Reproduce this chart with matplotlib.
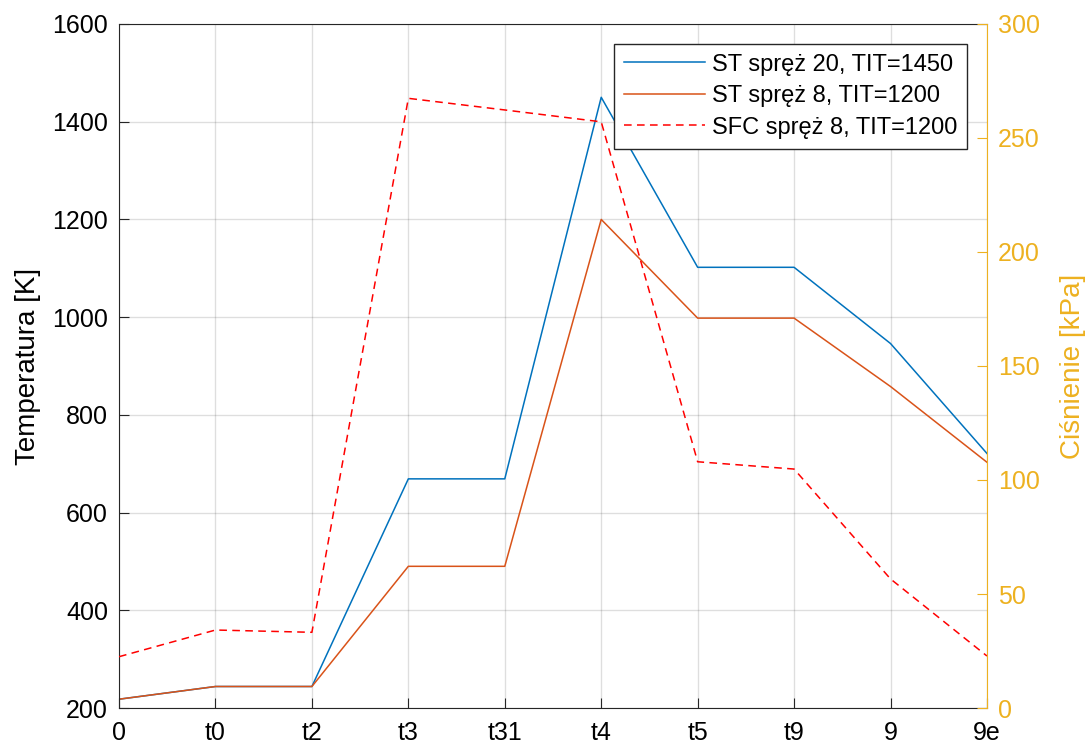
import numpy as np
import matplotlib.pyplot as plt

plt.rcParams['font.family'] = ['Liberation Sans', 'DejaVu Sans']

# data
stations = ['0', 't0', 't2', 't3', 't31', 't4', 't5', 't9', '9', '9e']
temp_st20 = [218, 244, 244, 669, 669, 1450, 1102, 1102, 946, 721]
temp_st8 = [218, 244, 244, 490, 490, 1200, 998, 998, 858, 703]
press_sfc8 = [22.5, 34.2, 33.2, 267.4, 262.3, 257.1, 108.0, 104.8, 56.6, 22.8]

labels = ['ST spręż 20, TIT=1450', 'ST spręż 8, TIT=1200', 'SFC spręż 8, TIT=1200']

blue = '#0072BD'
orange = '#D95319'
yellow = '#EDB120'
dark = '#262626'

x = np.arange(len(stations))

fig = plt.figure(figsize=(10.89, 7.5), dpi=100)
ax = fig.add_axes([0.1093, 0.056, 0.7970, 0.912])
ax2 = ax.twinx()

l1, = ax.plot(x, temp_st20, color=blue, lw=1.1)
l2, = ax.plot(x, temp_st8, color=orange, lw=1.1)
l3, = ax2.plot(x, press_sfc8, color='red', lw=1.1, ls=(0, (5, 3.5)))

ax.set_xlim(0, len(stations) - 1)
ax.set_ylim(200, 1600)
ax2.set_ylim(0, 300)
ax.set_xticks(x)
ax.set_xticklabels(stations)
ax.set_yticks(np.arange(200, 1601, 200))
ax2.set_yticks(np.arange(0, 301, 50))

ax.grid(True, color=dark, alpha=0.15, lw=1.0)
ax.tick_params(direction='in', length=7, labelsize=18, colors=dark, pad=8)
ax.tick_params(axis='x', pad=9)
ax.tick_params(axis='y', labelcolor='black')
ax.tick_params(axis='x', labelcolor='black')
ax2.tick_params(direction='in', length=7, labelsize=18, colors=yellow, pad=8)

for s in ['left', 'bottom', 'top']:
    ax.spines[s].set_color(dark)
ax.spines['right'].set_visible(False)
for s in ['left', 'bottom', 'top']:
    ax2.spines[s].set_visible(False)
ax2.spines['right'].set_color(yellow)

ax.set_ylabel('Temperatura [K]', fontsize=20, color='black', labelpad=8)
ax2.set_ylabel('Ciśnienie [kPa]', fontsize=20, color=yellow, labelpad=14)

leg = ax2.legend([l1, l2, l3], labels, loc='upper right',
                 bbox_to_anchor=(0.977, 0.971), fontsize=17,
                 handlelength=3.4, handletextpad=0.3, borderpad=0.42,
                 labelspacing=0.4, fancybox=False, framealpha=1,
                 edgecolor=dark, borderaxespad=0)
leg.get_frame().set_linewidth(1.0)

fig.savefig('out.png', dpi=100)
